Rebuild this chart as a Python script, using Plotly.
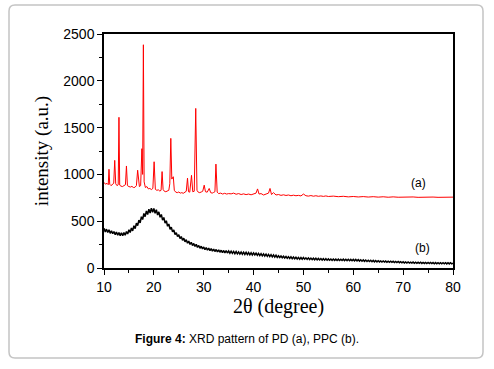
import numpy as np
import plotly.graph_objects as go

# ---- data: PD (a), red crystalline pattern ----
x_a = [10.0, 10.3, 10.6, 10.85, 11.0, 11.15, 11.4, 11.7, 11.95, 12.15, 12.35, 12.6, 12.85, 13.0, 13.15,
       13.4, 13.7, 14.0, 14.3, 14.5, 14.7, 15.0, 15.3, 15.6, 15.9, 16.2, 16.5, 16.75, 16.9, 17.1, 17.35,
       17.6, 17.75, 17.9, 18.05, 18.3, 18.6, 18.9, 19.2, 19.5, 19.8, 20.05, 20.3, 20.6, 20.9, 21.2, 21.45,
       21.65, 21.85, 22.1, 22.4, 22.7, 23.0, 23.2, 23.4, 23.6, 23.9, 24.1, 24.4, 24.7, 25.0, 25.3, 25.6,
       25.9, 26.2, 26.5, 26.75, 26.95, 27.2, 27.55, 27.8, 28.1, 28.4, 28.65, 28.9, 29.2, 29.5, 29.8, 30.1,
       30.35, 30.7, 31.1, 31.4, 31.7, 32.0, 32.25, 32.45, 32.7, 33.0, 33.4, 33.8, 34.2, 34.6, 35.0,
       35.5, 36.0, 36.5, 37.0, 37.5, 38.0, 38.5, 39.0, 39.5, 40.0, 40.5, 40.8, 41.1, 41.5, 42.0, 42.5,
       43.0, 43.3, 43.6, 44.0, 44.5, 45.0, 45.5, 46.0, 46.5, 47.0, 47.5, 48.0, 48.5, 49.0, 49.5, 50.0,
       50.5, 51.0, 51.5, 52.0, 52.5, 53.0, 53.5, 54.0, 54.5, 55.0, 56.0, 57.0, 58.0, 59.0, 60.0, 61.0,
       62.0, 63.0, 64.0, 65.0, 66.0, 67.0, 68.0, 69.0, 70.0, 71.0, 72.0, 73.0, 74.0, 75.0, 76.0, 77.0,
       78.0, 79.0, 80.0]
y_a = [915, 895, 905, 890, 1055, 895, 880, 890, 905, 1150, 900, 880, 890, 1610, 885,
       875, 870, 880, 890, 1090, 880, 870, 865, 872, 860, 862, 880, 1045, 980, 870, 880,
       1275, 1000, 2385, 920, 860, 870, 845, 850, 838, 850, 1135, 840, 830, 835, 822, 830,
       1030, 840, 820, 815, 825, 830, 900, 1385, 950, 975, 830, 810, 805, 812, 800, 805,
       798, 805, 820, 960, 815, 810, 990, 815, 820, 1705, 830, 810, 805, 812, 820, 885,
       815, 810, 850, 805, 800, 808, 815, 1110, 810, 795, 800, 790, 798, 790, 795,
       792, 800, 788, 795, 785, 792, 784, 790, 782, 788, 800, 845, 790, 795, 780, 790,
       800, 850, 785, 805, 780, 785, 776, 782, 775, 780, 772, 778, 772, 776, 770, 790,
       772, 768, 774, 767, 772, 766, 770, 765, 770, 764, 768, 762, 766, 760, 764, 759,
       763, 758, 762, 757, 761, 756, 760, 756, 759, 755, 759, 755, 758, 754, 758, 755,
       758, 755, 757]

# ---- data: PPC (b), black amorphous pattern (0.25 degree steps, 10 -> 80) ----
x_b = np.arange(10.0, 80.001, 0.25)
y_b = [425, 385, 415, 380, 408, 370, 398, 366, 390, 356, 384, 350, 380, 346, 376, 344, 378, 350, 390, 363,
       408, 380, 428, 396, 452, 420, 480, 452, 512, 482, 548, 518, 582, 548, 610, 572, 628, 588, 640, 595,
       636, 585, 622, 566, 600, 542, 572, 512, 540, 480, 505, 446, 470, 414, 436, 386, 406, 358, 376, 335,
       356, 315, 336, 296, 318, 280, 302, 265, 287, 252, 274, 240, 262, 230, 252, 220, 241, 211, 233, 204,
       225, 196, 217, 190, 212, 185, 207, 180, 202, 176, 198, 172, 194, 168, 190, 164, 187, 162, 185, 160,
       182, 158, 180, 156, 177, 153, 175, 151, 172, 149, 171, 147, 169, 145, 167, 143, 165, 141, 163, 139,
       161, 139, 158, 136, 156, 133, 154, 130, 151, 128, 148, 125, 145, 122, 142, 119, 139, 116, 136, 113,
       131, 112, 128, 109, 126, 107, 123, 104, 121, 102, 119, 100, 117, 98, 115, 96, 113, 94, 112, 93,
       111, 94, 109, 92, 108, 91, 106, 89, 105, 88, 104, 87, 102, 86, 101, 85, 100, 84, 99, 83,
       97, 83, 96, 82, 96, 82, 95, 81, 95, 81, 94, 80, 94, 79, 93, 79, 93, 78, 92, 78,
       92, 77, 91, 76, 89, 74, 88, 73, 86, 71, 85, 70, 83, 69, 82, 67, 81, 66, 80, 65,
       77, 65, 76, 64, 75, 63, 74, 62, 73, 61, 72, 60, 71, 59, 70, 58, 69, 57, 68, 56,
       66, 54, 65, 53, 64, 53, 63, 52, 63, 51, 62, 51, 61, 50, 61, 49, 60, 49, 60, 48,
       59, 47, 59, 47, 58, 46, 58, 46, 57, 45, 57, 45, 56, 45, 56, 44, 56, 44, 56, 44,
       52]

x_ticks = [10, 20, 30, 40, 50, 60, 70, 80]
y_ticks = [0, 500, 1000, 1500, 2000, 2500]
label_a = "(a)"
label_b = "(b)"
caption = "<b>Figure 4:</b> XRD pattern of PD (a), PPC (b)."

SANS = "Arial, Liberation Sans, sans-serif"
SERIF = "Times New Roman, Liberation Serif, serif"

fig = go.Figure()
fig.add_trace(go.Scatter(x=x_a, y=y_a, mode="lines", line=dict(color="#ff0000", width=1), hoverinfo="skip"))
fig.add_trace(go.Scatter(x=x_b, y=y_b, mode="lines", line=dict(color="#000000", width=1.5), hoverinfo="skip"))

W, H = 494, 369
ml, mr, mt, mb = 104, 41, 34, 101
pw, ph = W - ml - mr, H - mt - mb

def px2x(px):
    return (px - ml) / pw

def py2y(py):
    return (H - mb - py) / ph

# rounded outer frame
L, R, T, B = px2x(9), px2x(483), py2y(5), py2y(358)
rx, ry = 6 / pw, 6 / ph
path = (f"M {L+rx},{T} L {R-rx},{T} Q {R},{T} {R},{T-ry} L {R},{B+ry} Q {R},{B} {R-rx},{B} "
        f"L {L+rx},{B} Q {L},{B} {L},{B+ry} L {L},{T-ry} Q {L},{T} {L+rx},{T} Z")

axis_common = dict(
    showline=True, linecolor="black", linewidth=1.5, mirror=True,
    showgrid=False, zeroline=False, ticks="outside", ticklen=5, tickwidth=1.3,
    tickcolor="black", tickfont=dict(family=SANS, size=14, color="black"),
)

fig.update_layout(
    width=W, height=H, margin=dict(l=ml, r=mr, t=mt, b=mb),
    paper_bgcolor="white", plot_bgcolor="white", showlegend=False,
    xaxis=dict(range=[10, 80], tickvals=x_ticks,
               minor=dict(dtick=5, tick0=10, ticks="outside", ticklen=3, tickcolor="black"),
               title=dict(text="2θ (degree)", font=dict(family=SERIF, size=20, color="black"), standoff=2),
               **axis_common),
    yaxis=dict(range=[0, 2500], tickvals=y_ticks,
               minor=dict(dtick=250, tick0=0, ticks="outside", ticklen=3, tickcolor="black"),
               title=dict(text="intensity (a.u.)", font=dict(family=SERIF, size=19, color="black"), standoff=10),
               **axis_common),
    shapes=[dict(type="path", path=path, xref="paper", yref="paper",
                 line=dict(color="#c4c4c4", width=1.5), layer="below")],
    annotations=[
        dict(x=73.0, y=908, text=label_a, showarrow=False, font=dict(family=SANS, size=12, color="black")),
        dict(x=73.8, y=214, text=label_b, showarrow=False, font=dict(family=SANS, size=12, color="black")),
        dict(x=px2x(247), y=py2y(339), xref="paper", yref="paper", xanchor="center", yanchor="middle",
             text=caption, showarrow=False, font=dict(family=SANS, size=12, color="black")),
    ],
)

fig.write_html("out.html", config={"displayModeBar": False},
               post_script="document.body.style.margin='0';")
